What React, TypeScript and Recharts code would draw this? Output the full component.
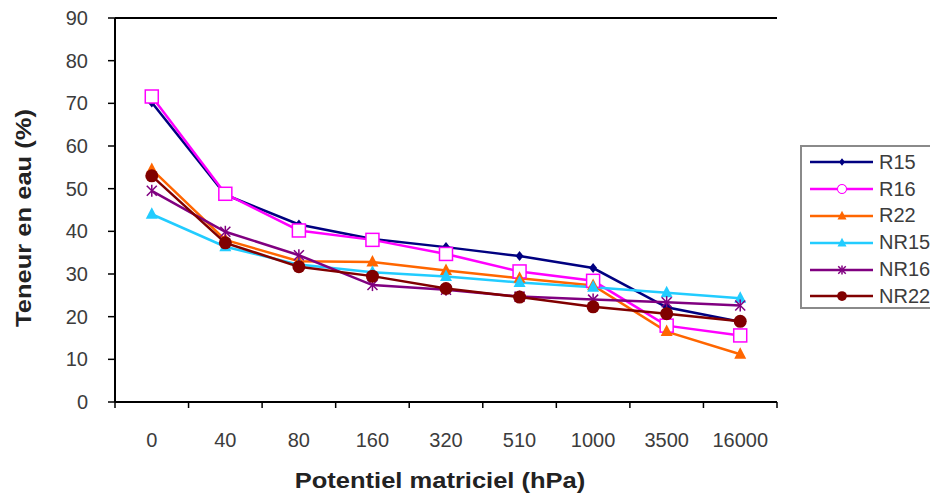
import { LineChart, Line, XAxis, YAxis, Legend, ReferenceLine } from "recharts";

// water content (%) vs matric potential (hPa)
const pressures = ["0", "40", "80", "160", "320", "510", "1000", "3500", "16000"];
const r15 = [70.2, 48.6, 41.6, 38.2, 36.3, 34.2, 31.4, 22.2, 18.8];
const r16 = [71.6, 48.8, 40.2, 38.0, 34.7, 30.6, 28.4, 17.9, 15.6];
const r22 = [54.5, 38.0, 33.0, 32.8, 30.8, 29.0, 27.3, 16.5, 11.2];
const nr15 = [44.0, 36.4, 32.2, 30.4, 29.4, 28.0, 26.9, 25.6, 24.3];
const nr16 = [49.5, 39.9, 34.4, 27.4, 26.3, 24.7, 24.0, 23.4, 22.6];
const nr22 = [53.0, 37.3, 31.7, 29.5, 26.6, 24.6, 22.3, 20.7, 18.9];
const yTicks = [0, 10, 20, 30, 40, 50, 60, 70, 80, 90];

const data = pressures.map((p, i) => ({
  p,
  R15: r15[i],
  R16: r16[i],
  R22: r22[i],
  NR15: nr15[i],
  NR16: nr16[i],
  NR22: nr22[i],
}));

const W = 930;
const H = 493;
const margin = { top: 18, right: 153, left: 0, bottom: 31 };
const plotW = W - 115 - margin.right;
const band = plotW / pressures.length;
const font = "'Liberation Sans', Arial, sans-serif";
const tickFill = "#3c3c3c";

type Shape = "diamond" | "square" | "triangle" | "star" | "circle";
const series: { key: string; color: string; shape: Shape }[] = [
  { key: "R15", color: "#000080", shape: "diamond" },
  { key: "R16", color: "#ff00ff", shape: "square" },
  { key: "R22", color: "#ff6600", shape: "triangle" },
  { key: "NR15", color: "#22ccff", shape: "triangle" },
  { key: "NR16", color: "#800080", shape: "star" },
  { key: "NR22", color: "#800000", shape: "circle" },
];

function Marker({ cx, cy, color, shape, s = 1 }: { cx: number; cy: number; color: string; shape: Shape; s?: number }) {
  if (cx == null || cy == null) return null;
  switch (shape) {
    case "diamond":
      return <path d={`M${cx},${cy - 5 * s}L${cx + 4 * s},${cy}L${cx},${cy + 5 * s}L${cx - 4 * s},${cy}Z`} fill={color} />;
    case "square":
      return <rect x={cx - 6.5 * s} y={cy - 6.5 * s} width={13 * s} height={13 * s} fill="#fff" stroke={color} strokeWidth={1.5} />;
    case "triangle":
      return <path d={`M${cx},${cy - 7 * s}L${cx + 6 * s},${cy + 4.5 * s}L${cx - 6 * s},${cy + 4.5 * s}Z`} fill={color} />;
    case "star":
      return (
        <g stroke={color} strokeWidth={1.5}>
          <line x1={cx - 5 * s} y1={cy - 5 * s} x2={cx + 5 * s} y2={cy + 5 * s} />
          <line x1={cx - 5 * s} y1={cy + 5 * s} x2={cx + 5 * s} y2={cy - 5 * s} />
          <line x1={cx} y1={cy - 6 * s} x2={cx} y2={cy + 6 * s} />
        </g>
      );
    default:
      return <circle cx={cx} cy={cy} r={6.5 * s} fill={color} />;
  }
}

function XTick(props: any) {
  const { x, y, payload, index } = props;
  const top = y - 6;
  const last = index === pressures.length - 1;
  return (
    <g>
      <line x1={x - band / 2} y1={top} x2={x - band / 2} y2={y} stroke="#000" strokeWidth={1.5} />
      {last && <line x1={x + band / 2} y1={top} x2={x + band / 2} y2={y} stroke="#000" strokeWidth={1.5} />}
      <text x={x} y={y + 39} textAnchor="middle" fontSize={20} fill={tickFill} fontFamily={font}>
        {payload.value}
      </text>
    </g>
  );
}

function LegendBox() {
  return (
    <div
      style={{
        border: "2px solid #8a8a8a",
        background: "#fff",
        width: 134,
        height: 164,
        boxSizing: "border-box",
        paddingTop: 2,
      }}
    >
      {series.map((s) => (
        <div key={s.key} style={{ display: "flex", alignItems: "center", height: 26.8 }}>
          <svg width={76} height={20}>
            <line x1={8} y1={10} x2={71} y2={10} stroke={s.color} strokeWidth={2.5} />
            <Marker cx={40} cy={10} color={s.color} shape={s.shape === "square" ? "circle" : s.shape} s={0.75} />
            {s.shape === "square" && <circle cx={40} cy={10} r={4.5} fill="#fff" stroke={s.color} strokeWidth={1} />}
          </svg>
          <span style={{ fontFamily: font, fontSize: 20, color: tickFill, marginLeft: 1 }}>{s.key}</span>
        </div>
      ))}
    </div>
  );
}

export default function App() {
  return (
    <div style={{ position: "absolute", left: 0, top: 0, width: W, height: H, background: "#fff" }}>
      <LineChart width={W} height={H} data={data} margin={margin}>
        <XAxis
          dataKey="p"
          scale="band"
          interval={0}
          height={60}
          tickSize={6}
          tickMargin={0}
          tickLine={false}
          tick={<XTick />}
          axisLine={{ stroke: "#000", strokeWidth: 2 }}
          label={{
            value: "Potentiel matriciel (hPa)",
            content: (p: any) => {
              const cx = p.viewBox.x + p.viewBox.width / 2 - 6;
              const cy = p.viewBox.y + 86;
              return (
                <text
                  x={0}
                  y={0}
                  transform={`translate(${cx}, ${cy}) scale(1.16, 1)`}
                  textAnchor="middle"
                  fontSize={22}
                  fontWeight="bold"
                  fill="#222"
                  fontFamily={font}
                >
                  Potentiel matriciel (hPa)
                </text>
              );
            },
          }}
        />
        <YAxis
          width={115}
          domain={[0, 90]}
          ticks={yTicks}
          interval={0}
          tickSize={7}
          tickMargin={20}
          tick={{ fontSize: 20, fill: tickFill, fontFamily: font }}
          tickLine={{ stroke: "#000", strokeWidth: 1.5 }}
          axisLine={{ stroke: "#000", strokeWidth: 2 }}
          label={{
            value: "Teneur en eau (%)",
            content: (p: any) => {
              const cy = p.viewBox.y + p.viewBox.height / 2 + 8;
              return (
                <text
                  x={0}
                  y={0}
                  transform={`translate(23, ${cy}) rotate(-90) scale(1.16, 1)`}
                  textAnchor="middle"
                  dominantBaseline="central"
                  fontSize={22}
                  fontWeight="bold"
                  fill="#222"
                  fontFamily={font}
                >
                  Teneur en eau (%)
                </text>
              );
            },
          }}
        />
        <YAxis yAxisId="right" orientation="right" width={0} domain={[0, 90]} tick={false} tickLine={false} axisLine={{ stroke: "#000", strokeWidth: 2 }} />
        <ReferenceLine y={90} stroke="#000" strokeWidth={2} />
        {series.map((s) => (
          <Line
            key={s.key}
            dataKey={s.key}
            name={s.key}
            stroke={s.color}
            strokeWidth={2.5}
            isAnimationActive={false}
            dot={(props: any) => <Marker key={`${s.key}-${props.index}`} cx={props.cx} cy={props.cy} color={s.color} shape={s.shape} />}
            activeDot={false}
          />
        ))}
        <Legend
          layout="vertical"
          align="center"
          verticalAlign="middle"
          wrapperStyle={{ left: 800, top: 145, width: 134 }}
          content={() => <LegendBox />}
        />
      </LineChart>
    </div>
  );
}
